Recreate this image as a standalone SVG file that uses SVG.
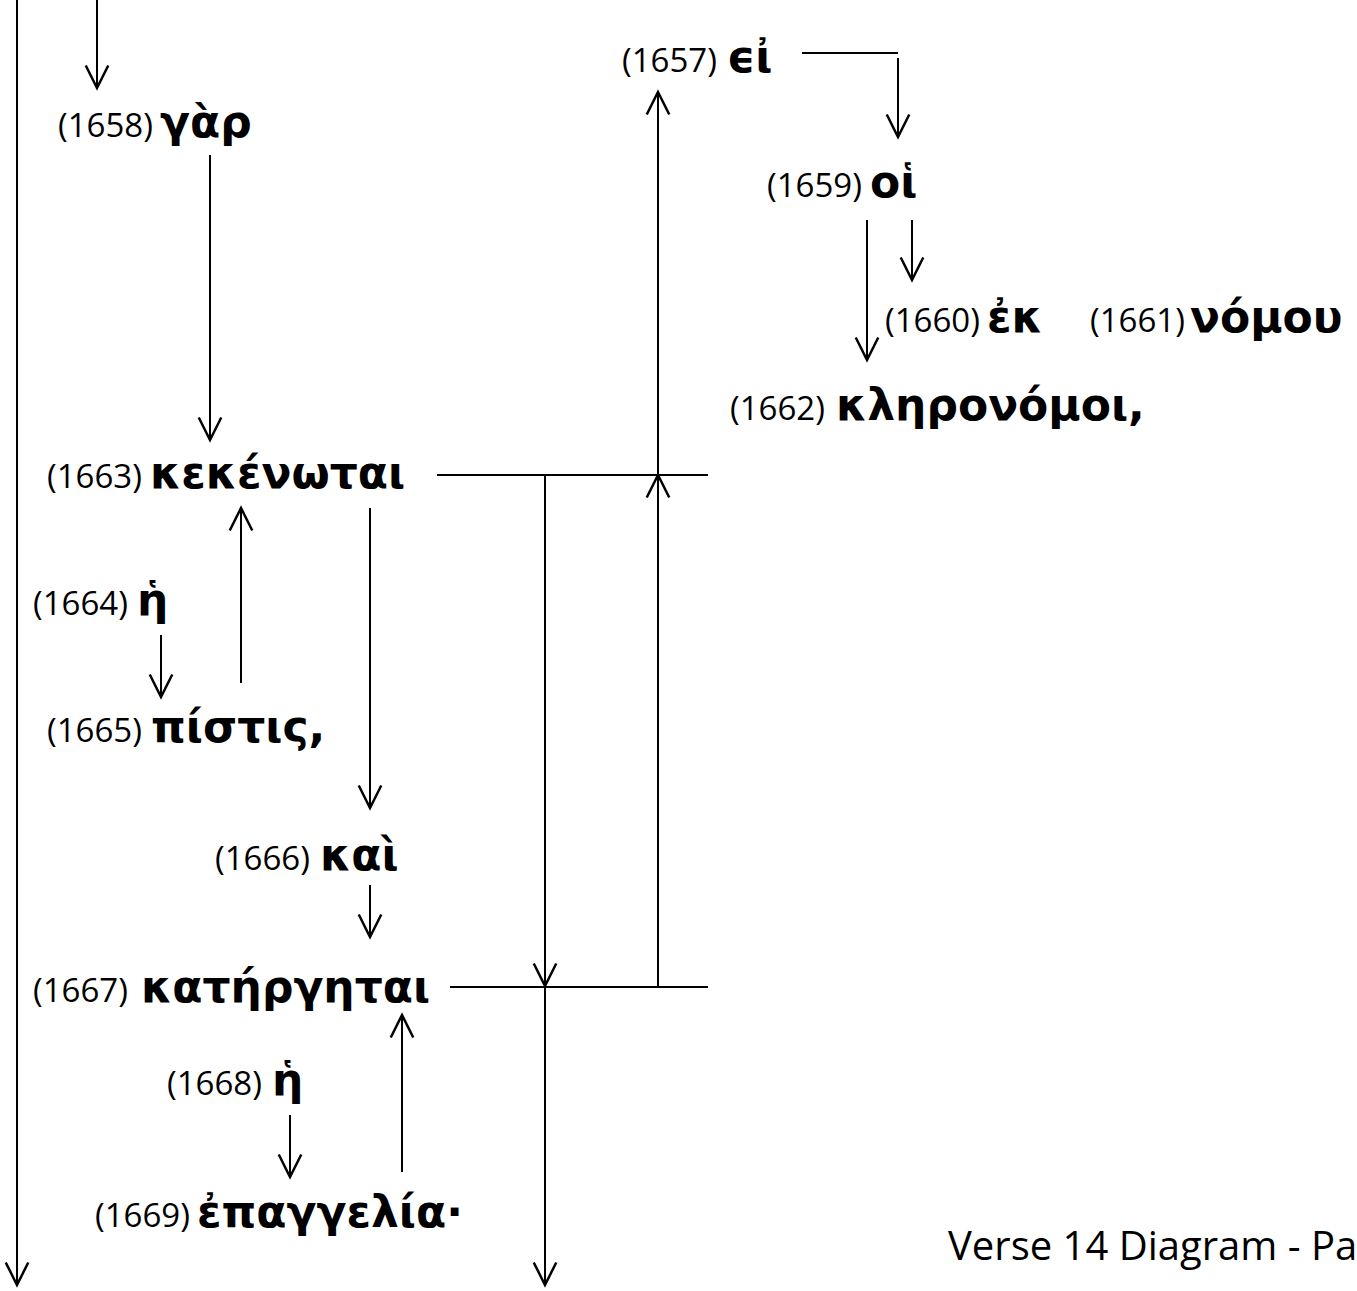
<svg xmlns="http://www.w3.org/2000/svg" width="1357" height="1291" viewBox="0 0 1357 1291">
<defs>
<marker id="ah" markerUnits="userSpaceOnUse" markerWidth="30" markerHeight="30" viewBox="-20 -12 24 24" refX="0" refY="0" orient="auto">
<path d="M-18,-9 L0,0 L-18,9" fill="none" stroke="#000" stroke-width="2"/>
</marker>
<style>
.l{font-family:"Open Sans","Liberation Sans",sans-serif;font-size:33px;fill:#000}
.g{font-family:"DejaVu Sans","Noto Sans",sans-serif;font-size:44px;font-weight:bold;fill:#000}
.t{font-family:"Open Sans","Liberation Sans",sans-serif;font-size:40px;fill:#000}
.c line{stroke:#000;stroke-width:2;fill:none}
.a{marker-end:url(#ah)}
</style>
</defs>
<rect width="1357" height="1291" fill="#fff"/>
<g class="c" id="connectors">
<line class="a" x1="17" y1="0" x2="17" y2="1285"/>
<line class="a" x1="97" y1="0" x2="97" y2="88"/>
<line class="a" x1="210" y1="155" x2="210" y2="440"/>
<line x1="802" y1="53" x2="898" y2="53"/>
<line class="a" x1="898" y1="58" x2="898" y2="137"/>
<line class="a" x1="912" y1="220" x2="912" y2="280"/>
<line class="a" x1="867" y1="220" x2="867" y2="360"/>
<line x1="437" y1="475" x2="708" y2="475"/>
<line class="a" x1="545" y1="475" x2="545" y2="986"/>
<line class="a" x1="545" y1="986" x2="545" y2="1285"/>
<line class="a" x1="658" y1="986" x2="658" y2="475"/>
<line class="a" x1="658" y1="475" x2="658" y2="92"/>
<line class="a" x1="241" y1="683" x2="241" y2="508"/>
<line class="a" x1="370" y1="508" x2="370" y2="808"/>
<line class="a" x1="161" y1="635" x2="161" y2="697"/>
<line class="a" x1="370" y1="885" x2="370" y2="937"/>
<line x1="450" y1="987" x2="708" y2="987"/>
<line class="a" x1="402" y1="1172" x2="402" y2="1015"/>
<line class="a" x1="290" y1="1115" x2="290" y2="1177"/>
</g>
<g id="n1657"><text class="l" x="622" y="72">(1657)</text><text class="g" x="727" y="72">ϵἰ</text></g>
<g id="n1658"><text class="l" x="58" y="137">(1658)</text><text class="g" x="160" y="137">γὰρ</text></g>
<g id="n1659"><text class="l" x="767" y="197">(1659)</text><text class="g" x="870" y="197">οἱ</text></g>
<g id="n1660"><text class="l" x="885" y="332">(1660)</text><text class="g" x="987" y="332">ἐκ</text></g>
<g id="n1661"><text class="l" x="1090" y="332">(1661)</text><text class="g" x="1190" y="332">νόμου</text></g>
<g id="n1662"><text class="l" x="730" y="420">(1662)</text><text class="g" x="836" y="420">κληρονόμοι,</text></g>
<g id="n1663"><text class="l" x="47" y="488">(1663)</text><text class="g" x="150" y="488">κεκένωται</text></g>
<g id="n1664"><text class="l" x="33" y="615">(1664)</text><text class="g" x="137" y="615">ἡ</text></g>
<g id="n1665"><text class="l" x="47" y="742">(1665)</text><text class="g" x="151" y="742">πίστις,</text></g>
<g id="n1666"><text class="l" x="215" y="870">(1666)</text><text class="g" x="320" y="870">καὶ</text></g>
<g id="n1667"><text class="l" x="33" y="1002">(1667)</text><text class="g" x="141" y="1002">κατήργηται</text></g>
<g id="n1668"><text class="l" x="167" y="1095">(1668)</text><text class="g" x="272" y="1095">ἡ</text></g>
<g id="n1669"><text class="l" x="95" y="1227">(1669)</text><text class="g" x="197" y="1227">ἐπαγγελία·</text></g>
<g id="title"><text class="t" x="948" y="1260">Verse 14 Diagram - Pa</text></g>
</svg>
